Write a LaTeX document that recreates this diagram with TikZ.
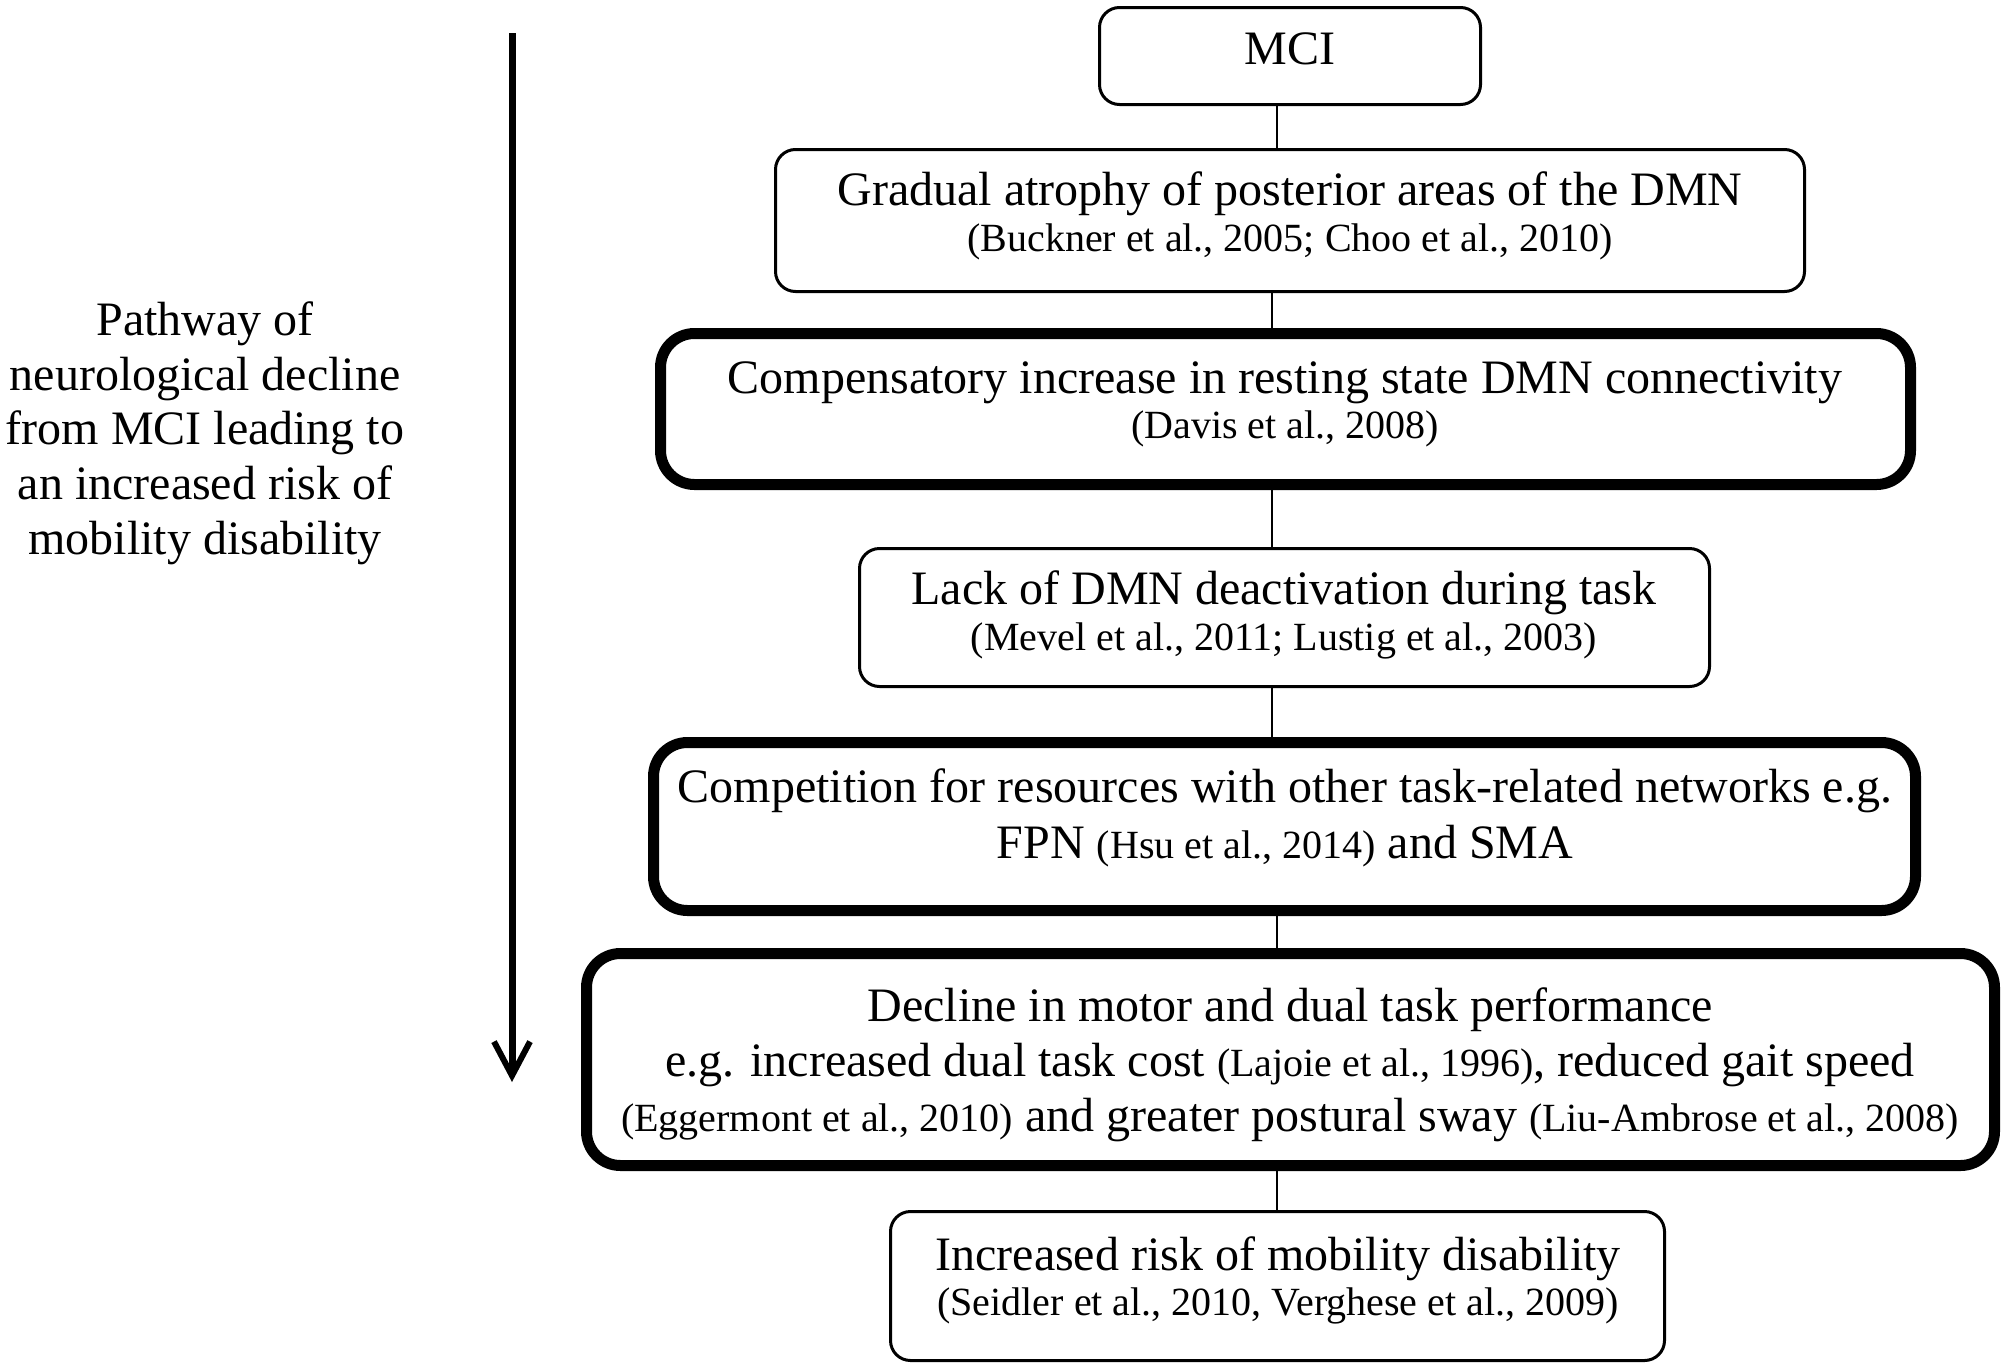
\documentclass[tikz,border=0pt]{standalone}
\usepackage{fontspec}
\setmainfont{Liberation Serif}
\usetikzlibrary{arrows.meta}
\newcommand{\mainsz}{\fontsize{48}{55}\selectfont}
\newcommand{\citsz}{\fontsize{40}{48}\selectfont}
\newcommand{\cit}[1]{{\citsz #1}}
\begin{document}
\begin{tikzpicture}[x=1pt,y=-1pt,
  thinbox/.style={draw, line width=3pt, rounded corners=20pt, inner sep=0pt},
  thickbox/.style={draw, line width=11pt, rounded corners=34pt, inner sep=0pt},
  txt/.style={anchor=base, inner sep=0pt, font=\mainsz},
  cittxt/.style={anchor=base, inner sep=0pt, font=\citsz},
  link/.style={line width=2.5pt}]
\useasboundingbox (0,0) rectangle (2007,1368);

% boxes
\node[thinbox,  minimum width=381pt,  minimum height=97pt]  (b1) at (1290,56) {};
\node[thinbox,  minimum width=1029pt, minimum height=142pt] (b2) at (1290,220.5) {};
\node[thickbox, minimum width=1250pt, minimum height=151pt] (b3) at (1285.5,409) {};
\node[thinbox,  minimum width=850pt,  minimum height=138pt] (b4) at (1284.5,617.5) {};
\node[thickbox, minimum width=1262pt, minimum height=168pt] (b5) at (1284.5,826.5) {};
\node[thickbox, minimum width=1408pt, minimum height=212pt] (b6) at (1290.5,1059.5) {};
\node[thinbox,  minimum width=774pt,  minimum height=149pt] (b7) at (1277.5,1286) {};

% texts
\node[txt] (t1) at (1290,64) {MCI};
\node[txt] (t2a) at (1290,205) {Gradual atrophy of posterior areas of the DMN};
\node[cittxt] (t2b) at (1290,251) {(Buckner et al., 2005; Choo et al., 2010)};
\node[txt] (t3a) at (1285,393) {Compensatory increase in resting state DMN connectivity};
\node[cittxt] (t3b) at (1285,438) {(Davis et al., 2008)};
\node[txt] (t4a) at (1284,604) {Lack of DMN deactivation during task};
\node[cittxt] (t4b) at (1284,650) {(Mevel et al., 2011; Lustig et al., 2003)};
\node[txt] (t5a) at (1285,802) {Competition for resources with other task-related networks e.g.};
\node[txt] (t5b) at (1285,858) {FPN \cit{(Hsu et al., 2014)} and SMA};
\node[txt] (t6a) at (1290,1021) {Decline in motor and dual task performance};
\node[txt] (t6b) at (1290,1076) {e.g. increased dual task cost \cit{(Lajoie et al., 1996)}, reduced gait speed};
\node[txt] (t6c) at (1290,1131) {\cit{(Eggermont et al., 2010)} and greater postural sway \cit{(Liu-Ambrose et al., 2008)}};
\node[txt] (t7a) at (1278,1270) {Increased risk of mobility disability};
\node[cittxt] (t7b) at (1278,1315) {(Seidler et al., 2010, Verghese et al., 2009)};

% connectors
\coordinate (ca) at (1277,0);
\coordinate (cb) at (1272,0);
\draw[link] (b1.south -| ca) -- (b2.north -| ca);
\draw[link] (b2.south -| cb) -- (b3.north -| cb);
\draw[link] (b3.south -| cb) -- (b4.north -| cb);
\draw[link] (b4.south -| cb) -- (b5.north -| cb);
\draw[link] (b5.south -| ca) -- (b6.north -| ca);
\draw[link] (b6.south -| ca) -- (b7.north -| ca);

% left arrow and label
\coordinate (as) at (512,33);
\coordinate (ae) at (512,1082);
\draw[line width=7pt, -{Straight Barb[length=34pt,width=36pt,line width=6pt]}] (as) -- (ae);
\node[txt] (l1) at (205,335) {Pathway of};
\node[txt] (l2) at (205,390) {neurological decline};
\node[txt] (l3) at (205,444) {from MCI leading to};
\node[txt] (l4) at (205,499) {an increased risk of};
\node[txt] (l5) at (205,554) {mobility disability};
\end{tikzpicture}
\end{document}
